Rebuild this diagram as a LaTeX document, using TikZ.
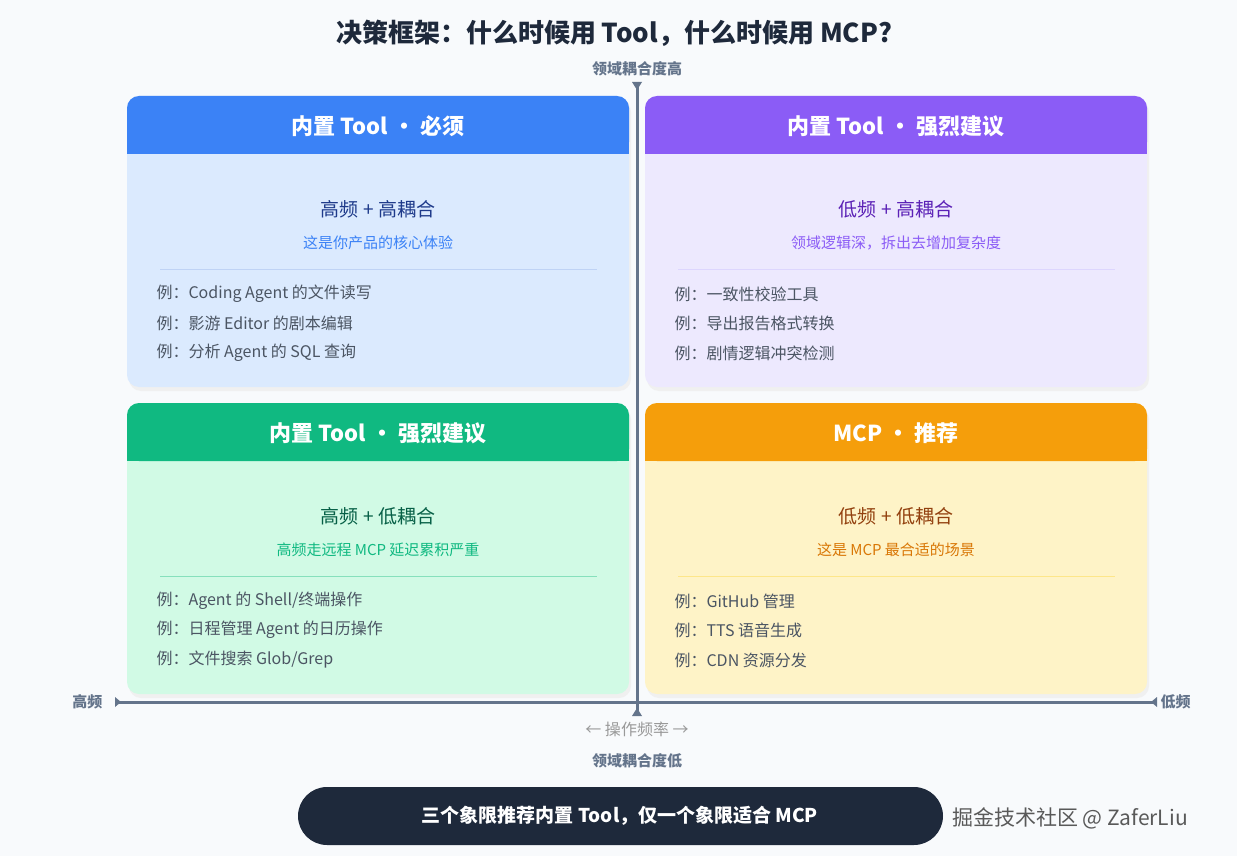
\documentclass[tikz,border=0pt]{standalone}
\usepackage{fontspec}
\setmainfont{Noto Sans CJK SC}
\usetikzlibrary{arrows.meta}
\definecolor{bg}{HTML}{F8FAFC}
\definecolor{axis}{HTML}{64748B}
\definecolor{ex}{HTML}{4B5563}
\definecolor{hA}{HTML}{3B82F6}\definecolor{bA}{HTML}{DBEAFE}\definecolor{tA}{HTML}{1E3A8A}\definecolor{sA}{HTML}{3B82F6}\definecolor{lA}{HTML}{BFD3F5}
\definecolor{hB}{HTML}{8B5CF6}\definecolor{bB}{HTML}{EDE9FE}\definecolor{tB}{HTML}{5B21B6}\definecolor{sB}{HTML}{8B5CF6}\definecolor{lB}{HTML}{DDD6FE}
\definecolor{hC}{HTML}{10B981}\definecolor{bC}{HTML}{D1FAE5}\definecolor{tC}{HTML}{065F46}\definecolor{sC}{HTML}{10B981}\definecolor{lC}{HTML}{86E0BC}
\definecolor{hD}{HTML}{F59E0B}\definecolor{bD}{HTML}{FEF3C7}\definecolor{tD}{HTML}{92400E}\definecolor{sD}{HTML}{D97706}\definecolor{lD}{HTML}{FDE68A}
\definecolor{pill}{HTML}{1E293B}
\tikzset{
 hdr/.style={font=\bfseries\fontsize{22}{26}\selectfont,text=white},
 ctitle/.style={font=\fontsize{19}{22}\selectfont},
 csub/.style={font=\fontsize{15}{18}\selectfont},
 exl/.style={font=\fontsize{16}{19}\selectfont,text=ex,anchor=west},
 axl/.style={font=\bfseries\fontsize{15}{18}\selectfont,text=axis},
}
\newcommand{\quadcard}[9]{%
 \fill[black!6,rounded corners=12pt] (#1+2,-#2-4) rectangle (#1+504,-#2-295);
 \fill[b#3,rounded corners=12pt] (#1,-#2) rectangle (#1+502,-#2-291);
 \fill[h#3,rounded corners=12pt] (#1,-#2) rectangle (#1+502,-#2-58);
 \fill[h#3] (#1,-#2-30) rectangle (#1+502,-#2-58);
 \node[hdr] (h#3) at (#1+251,-#2-30) {#4};
 \node[ctitle,text=t#3] (t#3) at (#1+251,-#2-113) {#5};
 \node[csub,text=s#3] (s#3) at (#1+251,-#2-147) {#6};
 \draw[l#3,line width=1pt] (#1+33,-#2-173) -- (#1+470,-#2-173);
 \node[exl] (ea#3) at (#1+26,-#2-198) {#7};
 \node[exl] (eb#3) at (#1+26,-#2-227) {#8};
 \node[exl] (ec#3) at (#1+26,-#2-257) {#9};
}
\begin{document}
\begin{tikzpicture}[x=1pt,y=1pt]
\fill[bg] (0,0) rectangle (1237,-856);
\useasboundingbox (0,0) rectangle (1237,-856);
\node[font=\bfseries\fontsize{26}{30}\selectfont,text=pill] (title) at (614,-33) {决策框架：什么时候用 Tool，什么时候用 MCP?};
\quadcard{127}{96}{A}{内置 Tool · 必须}{高频 + 高耦合}{这是你产品的核心体验}{例：Coding Agent 的文件读写}{例：影游 Editor 的剧本编辑}{例：分析 Agent 的 SQL 查询}
\quadcard{645}{96}{B}{内置 Tool · 强烈建议}{低频 + 高耦合}{领域逻辑深，拆出去增加复杂度}{例：一致性校验工具}{例：导出报告格式转换}{例：剧情逻辑冲突检测}
\quadcard{127}{403}{C}{内置 Tool · 强烈建议}{高频 + 低耦合}{高频走远程 MCP 延迟累积严重}{例：Agent 的 Shell/终端操作}{例：日程管理 Agent 的日历操作}{例：文件搜索 Glob/Grep}
\quadcard{645}{403}{D}{MCP · 推荐}{低频 + 低耦合}{这是 MCP 最合适的场景}{例：GitHub 管理}{例：TTS 语音生成}{例：CDN 资源分发}
\coordinate (vt) at (637,-82); \coordinate (vb) at (637,-716);
\coordinate (hl) at (115,-702); \coordinate (hr) at (1157,-702);
\draw[axis,line width=3pt] (vt) -- (vb);
\draw[axis,line width=3pt] (hl) -- (hr);
\fill[axis] (632,-82) -- (642,-82) -- (637,-90) -- cycle;
\fill[axis] (632,-716) -- (642,-716) -- (637,-708) -- cycle;
\fill[axis] (115,-697) -- (115,-707) -- (121,-702) -- cycle;
\fill[axis] (1157,-697) -- (1157,-707) -- (1151,-702) -- cycle;
\node[axl] (yhi) at (637,-69) {领域耦合度高};
\node[axl] (ylo) at (637,-761) {领域耦合度低};
\node[axl,anchor=east] (xhi) at (106,-702) {高频};
\node[axl,anchor=west] (xlo) at (1157,-702) {低频};
\node[font=\fontsize{16}{19}\selectfont,text=black!40] (xl) at (637,-729) {← 操作频率 →};
\fill[pill,rounded corners=29pt] (298,-787) rectangle (943,-845);
\node[font=\bfseries\fontsize{19}{22}\selectfont,text=white] (sum) at (620,-816) {三个象限推荐内置 Tool，仅一个象限适合 MCP};
\node[font=\fontsize{21}{24}\selectfont,text=black!65] (wm) at (1070,-818) {掘金技术社区 @ ZaferLiu};
\end{tikzpicture}
\end{document}
